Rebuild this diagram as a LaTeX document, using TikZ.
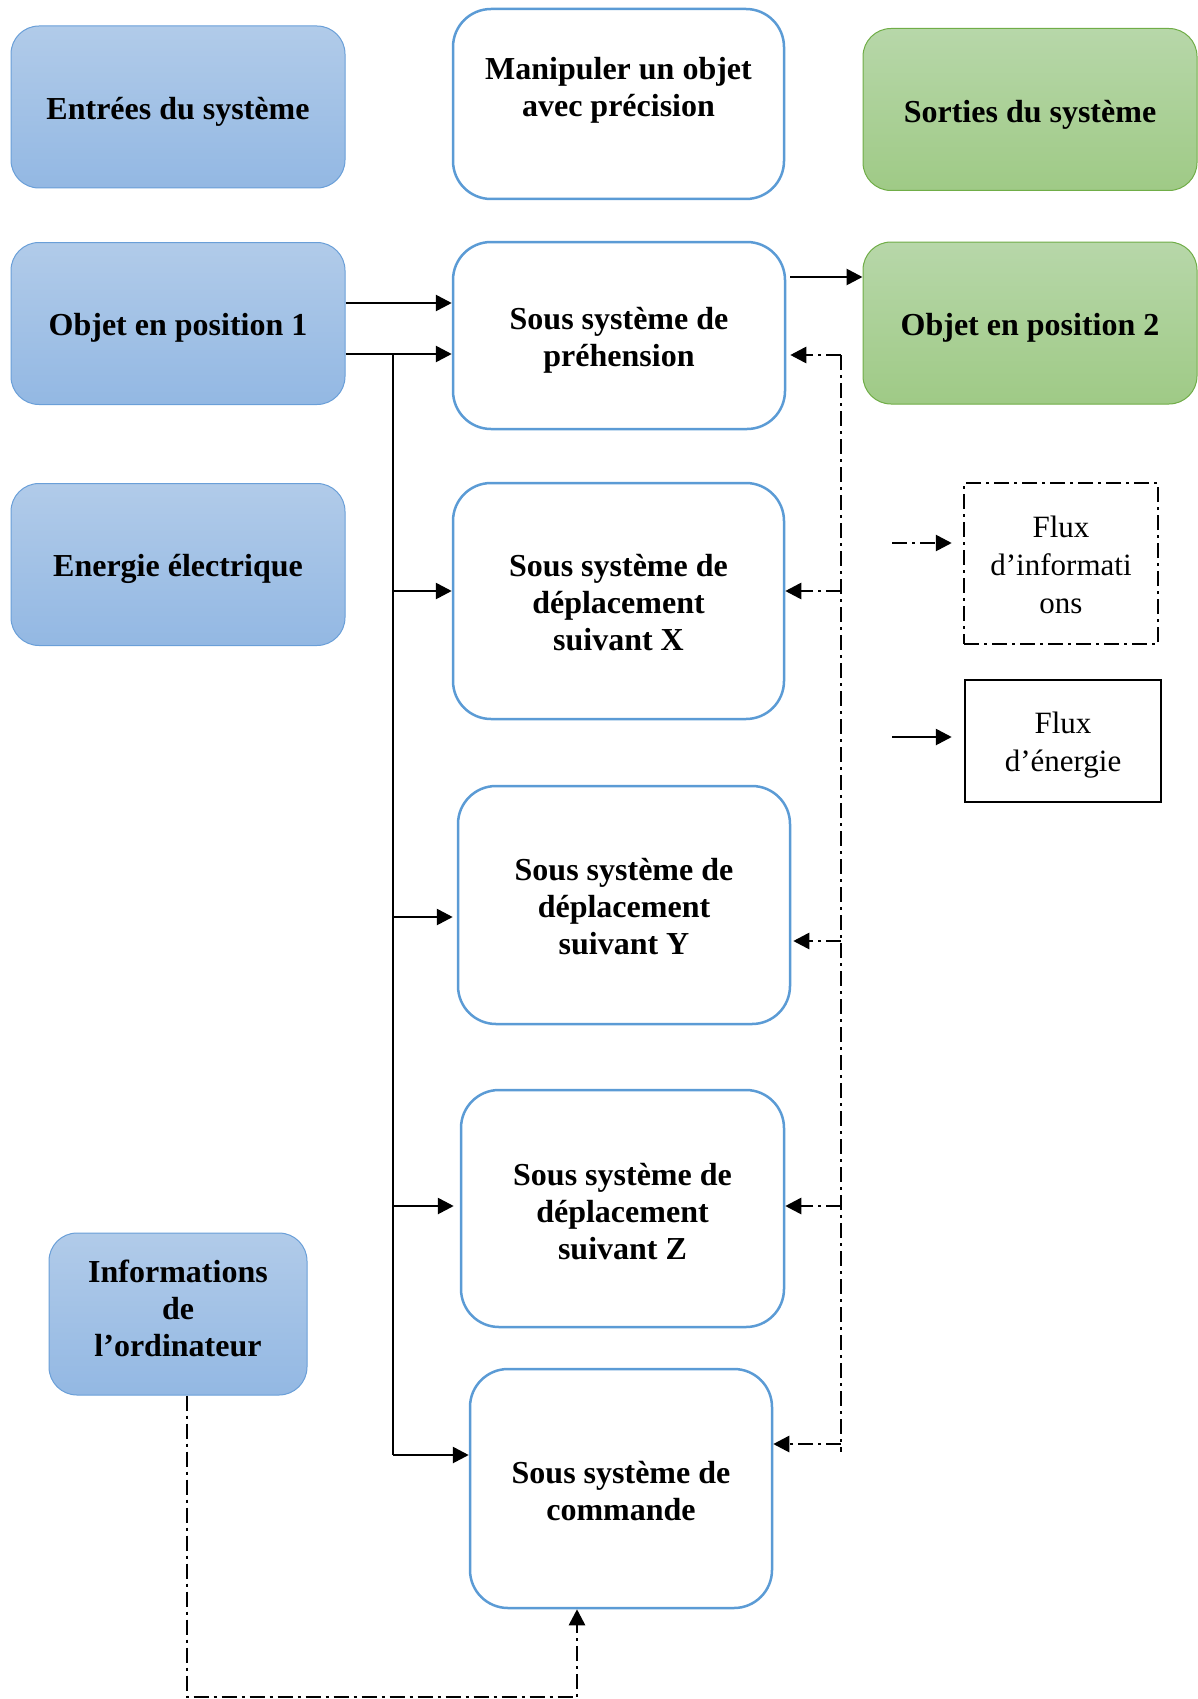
\documentclass[tikz,border=0pt]{standalone}
\usepackage{fontspec}
\setmainfont{Liberation Serif}
\usetikzlibrary{arrows.meta}
\definecolor{inedge}{HTML}{6A9FD8}
\definecolor{intop}{HTML}{B1CBE9}
\definecolor{inbot}{HTML}{93B8E3}
\definecolor{outedge}{HTML}{70AD47}
\definecolor{outtop}{HTML}{B7D7A9}
\definecolor{outbot}{HTML}{9FCA86}
\definecolor{subedge}{HTML}{5B9BD5}
\begin{document}
\begin{tikzpicture}[x=1pt,y=-1pt,
  txt/.style={inner sep=0pt, align=center,
    font=\fontsize{32}{37}\selectfont\bfseries},
  legtxt/.style={inner sep=0pt, align=center,
    font=\fontsize{31}{38}\selectfont},
  inbox/.style={rectangle, rounded corners=28pt, draw=inedge, line width=1pt,
    top color=intop, bottom color=inbot, minimum width=334pt, minimum height=162pt},
  outbox/.style={rectangle, rounded corners=28pt, draw=outedge, line width=1pt,
    top color=outtop, bottom color=outbot, minimum width=334pt, minimum height=162pt},
  subbox/.style={rectangle, rounded corners=38pt, draw=subedge, line width=2.5pt, fill=white},
  legbox/.style={rectangle, draw=black, line width=2.5pt},
  dashdot/.style={dash pattern=on 15pt off 5pt on 3pt off 5pt},
  tip/.style={-{Triangle[length=16pt,width=16pt]}},
  energy/.style={line width=2.7pt},
  infoflow/.style={line width=2.7pt, dashdot},
]
\useasboundingbox (0,0) rectangle (1197,1699);

% inputs
\node[inbox] (inp)  at (178,107)   {};
\node[inbox] (obj1) at (178,323.5) {};
\node[inbox] (ener) at (178,564.5) {};
\node[inbox, minimum width=258pt] (info) at (178,1314) {};
\node[txt] (inptxt)  at ([yshift=-5pt]inp.center)  {Entrées du système};
\node[txt] (obj1txt) at ([yshift=-4pt]obj1.center) {Objet en position 1};
\node[txt] (enertxt) at ([yshift=-4pt]ener.center) {Energie électrique};
\node[txt] (infotxt) at ([yshift=6pt]info.center)  {Informations\\de\\l’ordinateur};

% function and sub-systems
\node[subbox, minimum width=331pt, minimum height=190pt] (goal) at (618.5,104) {};
\node[subbox, minimum width=332pt, minimum height=187pt] (preh) at (619,335.5) {};
\node[subbox, minimum width=331pt, minimum height=236pt] (depx) at (618.5,601) {};
\node[subbox, minimum width=332pt, minimum height=238pt] (depy) at (624,905) {};
\node[subbox, minimum width=323pt, minimum height=237pt] (depz) at (622.5,1208.5) {};
\node[subbox, minimum width=302pt, minimum height=239pt] (cmd) at (621,1488.5) {};
\node[txt] (goaltxt) at ([yshift=14pt]goal.center) {Manipuler un objet\\avec précision};
\node[txt] (prehtxt) at ([yshift=-5pt]preh.center) {Sous système de\\préhension};
\node[txt] (depxtxt) at ([yshift=-2pt]depx.center) {Sous système de\\déplacement\\suivant X};
\node[txt] (depytxt) at ([yshift=-2pt]depy.center) {Sous système de\\déplacement\\suivant Y};
\node[txt] (depztxt) at ([yshift=-3pt]depz.center) {Sous système de\\déplacement\\suivant Z};
\node[txt] (cmdtxt)  at ([yshift=-3pt]cmd.center)  {Sous système de\\commande};

% outputs
\node[outbox] (out)  at (1030,109.5) {};
\node[outbox] (obj2) at (1030,323)   {};
\node[txt] (outtxt)  at ([yshift=-5pt]out.center)  {Sorties du système};
\node[txt] (obj2txt) at ([yshift=-5pt]obj2.center) {Objet en position 2};

% legend
\node[legbox, dashdot, minimum width=194pt, minimum height=161pt] (leginfo) at (1061,563.5) {};
\node[legbox, minimum width=196pt, minimum height=122pt] (legen) at (1063,741) {};
\node[legtxt] (leginfotxt) at ([yshift=-1pt]leginfo.center) {Flux\\d’informati\\ons};
\node[legtxt] (legentxt)   at ([yshift=-4pt]legen.center)   {Flux\\d’énergie};
\coordinate (li) at (892,543);
\coordinate (le) at (892,737);
\draw[infoflow, tip] (li) -- ([xshift=-11pt]leginfo.west |- li);
\draw[energy, tip] (le) -- ([xshift=-12pt]legen.west |- le);

% energy flow
\draw[energy, tip] (obj1.east |- 0,303) -- (preh.west |- 0,303);
\draw[energy, tip] (obj1.east |- 0,354) -- (preh.west |- 0,354);
\coordinate (tk) at (393,354);
\coordinate (tkend) at (393,1455);
\draw[energy] (tk) -- (tkend);
\draw[energy, tip] (tk |- 0,591)  -- (depx.west |- 0,591);
\draw[energy, tip] (tk |- 0,917)  -- ([xshift=-4pt]depy.west |- 0,917);
\draw[energy, tip] (tk |- 0,1206) -- ([xshift=-6pt]depz.west |- 0,1206);
\draw[energy, tip] (tkend) -- (cmd.west |- tkend);
\draw[energy, tip] ([xshift=4pt]preh.east |- 0,277) -- (obj2.west |- 0,277);

% information flow
\coordinate (it) at (841,355);
\coordinate (ib) at (841,1452);
\draw[infoflow] (it) -- (ib);
\draw[infoflow, tip] (it) -- ([xshift=4pt]preh.east |- it);
\draw[infoflow, tip] (it |- 0,591)  -- (depx.east |- 0,591);
\draw[infoflow, tip] (it |- 0,941)  -- ([xshift=2pt]depy.east |- 0,941);
\draw[infoflow, tip] (it |- 0,1206) -- (depz.east |- 0,1206);
\draw[infoflow, tip] (it |- 0,1444) -- (cmd.east |- 0,1444);
\draw[infoflow, tip] (info.south -| 187,0) |- (577,1697) -- (cmd.south -| 577,0);
\end{tikzpicture}
\end{document}
